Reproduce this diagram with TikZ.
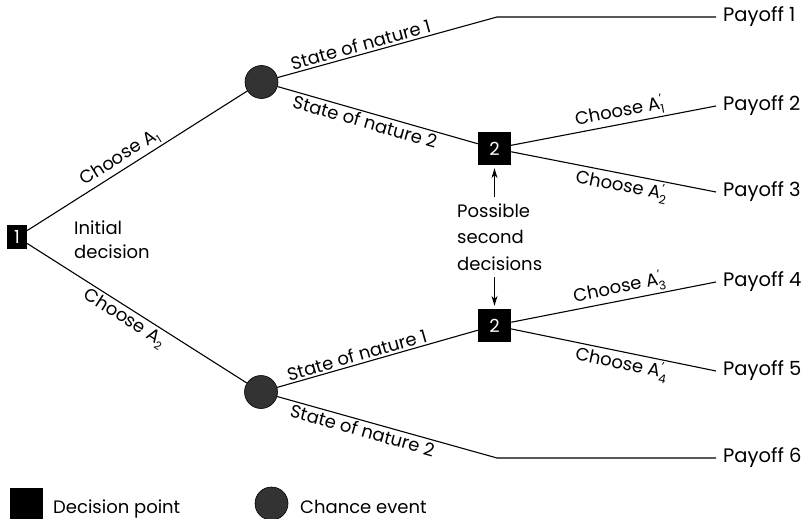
\documentclass[tikz,border=0pt]{standalone}
\usepackage{fontspec}
\setmainfont{Poppins}
\usetikzlibrary{arrows.meta}
% A with a lowered index, and A-prime: prime stacked over a lowered index
\newcommand\Asub[1]{A\raisebox{-0.45ex}{\fontsize{11}{11}\selectfont #1}}
\newcommand\Aprm[1]{A\raisebox{-0.5ex}{\fontsize{12}{11}\selectfont\shortstack[l]{\kern0.5pt’\\#1}}}

\begin{document}
\begin{tikzpicture}[x=1pt,y=-1pt,
  every node/.style={font=\fontsize{18}{21}\selectfont},
  branch/.style={line width=1.1pt},
  decbox/.style={fill=black, text=white, inner sep=0pt, font=\fontsize{18}{18}\selectfont},
  chance/.style={circle, draw=black, fill=black!80, minimum size=33pt, inner sep=0pt, line width=0.6pt},
  payoff/.style={anchor=west, inner xsep=7pt, inner ysep=0pt, font=\fontsize{19.5}{22}\selectfont},
  elabel/.style={sloped, inner sep=2pt},
  callout/.style={line width=1pt, -{Stealth[length=10pt,width=6pt]}, shorten >=3pt}]
\useasboundingbox (0,0) rectangle (801,519);

% decision and chance points
\node[decbox, minimum width=20pt, minimum height=24pt] (d1) at (17,237) {1};
\node[chance] (c1) at (261.5,82) {};
\node[chance] (c2) at (261,392) {};
\node[decbox, minimum size=33pt] (d2a) at (494.5,148.5) {2};
\node[decbox, minimum size=33pt] (d2b) at (494.5,325.5) {2};
\coordinate (k1) at (497,17);
\coordinate (k6) at (497,458);

% outcomes
\node[payoff] (p1) at (716,17) {Payoff 1};
\node[payoff] (p2) at (716,106) {Payoff 2};
\node[payoff] (p3) at (716,192) {Payoff 3};
\node[payoff] (p4) at (716,282) {Payoff 4};
\node[payoff] (p5) at (716,371) {Payoff 5};
\node[payoff] (p6) at (716,458) {Payoff 6};

% branches
\draw[branch] (d1) -- node[elabel, above, pos=0.45] {Choose \Asub{1}} (c1);
\draw[branch] (d1) -- node[elabel, below, pos=0.47] {Choose \Asub{2}} (c2);
\draw[branch] (c1) -- node[elabel, above, pos=0.39] {State of nature 1} (k1) -- (p1.west);
\draw[branch] (c1) -- node[elabel, below, pos=0.45] {State of nature 2} (d2a);
\draw[branch] (d2a) -- node[elabel, above, pos=0.54] {Choose \Aprm{1}} (p2.west);
\draw[branch] (d2a) -- node[elabel, below, pos=0.55] {Choose \Aprm{2}} (p3.west);
\draw[branch] (d2b) -- node[elabel, above, pos=0.54] {Choose \Aprm{3}} (p4.west);
\draw[branch] (d2b) -- node[elabel, below, pos=0.55] {Choose \Aprm{4}} (p5.west);
\draw[branch] (c2) -- node[elabel, above, pos=0.41] {State of nature 1} (d2b);
\draw[branch] (c2) -- node[elabel, below, pos=0.40] {State of nature 2} (k6) -- (p6.west);

% notes
\node[anchor=west, align=left, inner sep=0pt, font=\fontsize{18}{24}\selectfont] (init) at (74,240) {Initial\\decision};
\node[anchor=west, align=left, inner sep=0pt, font=\fontsize{18}{26.5}\selectfont] (note) at (457,237) {Possible\\second\\decisions};
\coordinate (upt) at (494.5,197);
\coordinate (dnt) at (494.5,277);
\draw[callout] (upt) -- (d2a);
\draw[callout] (dnt) -- (d2b);

% legend
\node[decbox, minimum width=33pt, minimum height=31pt] (legd) at (26.5,503.5) {};
\node[anchor=base west, inner sep=0pt] (legdt) at (53,513) {Decision point};
\node[chance] (legc) at (271.5,503.5) {};
\node[anchor=base west, inner sep=0pt] (legct) at (300,513) {Chance event};
\end{tikzpicture}
\end{document}
